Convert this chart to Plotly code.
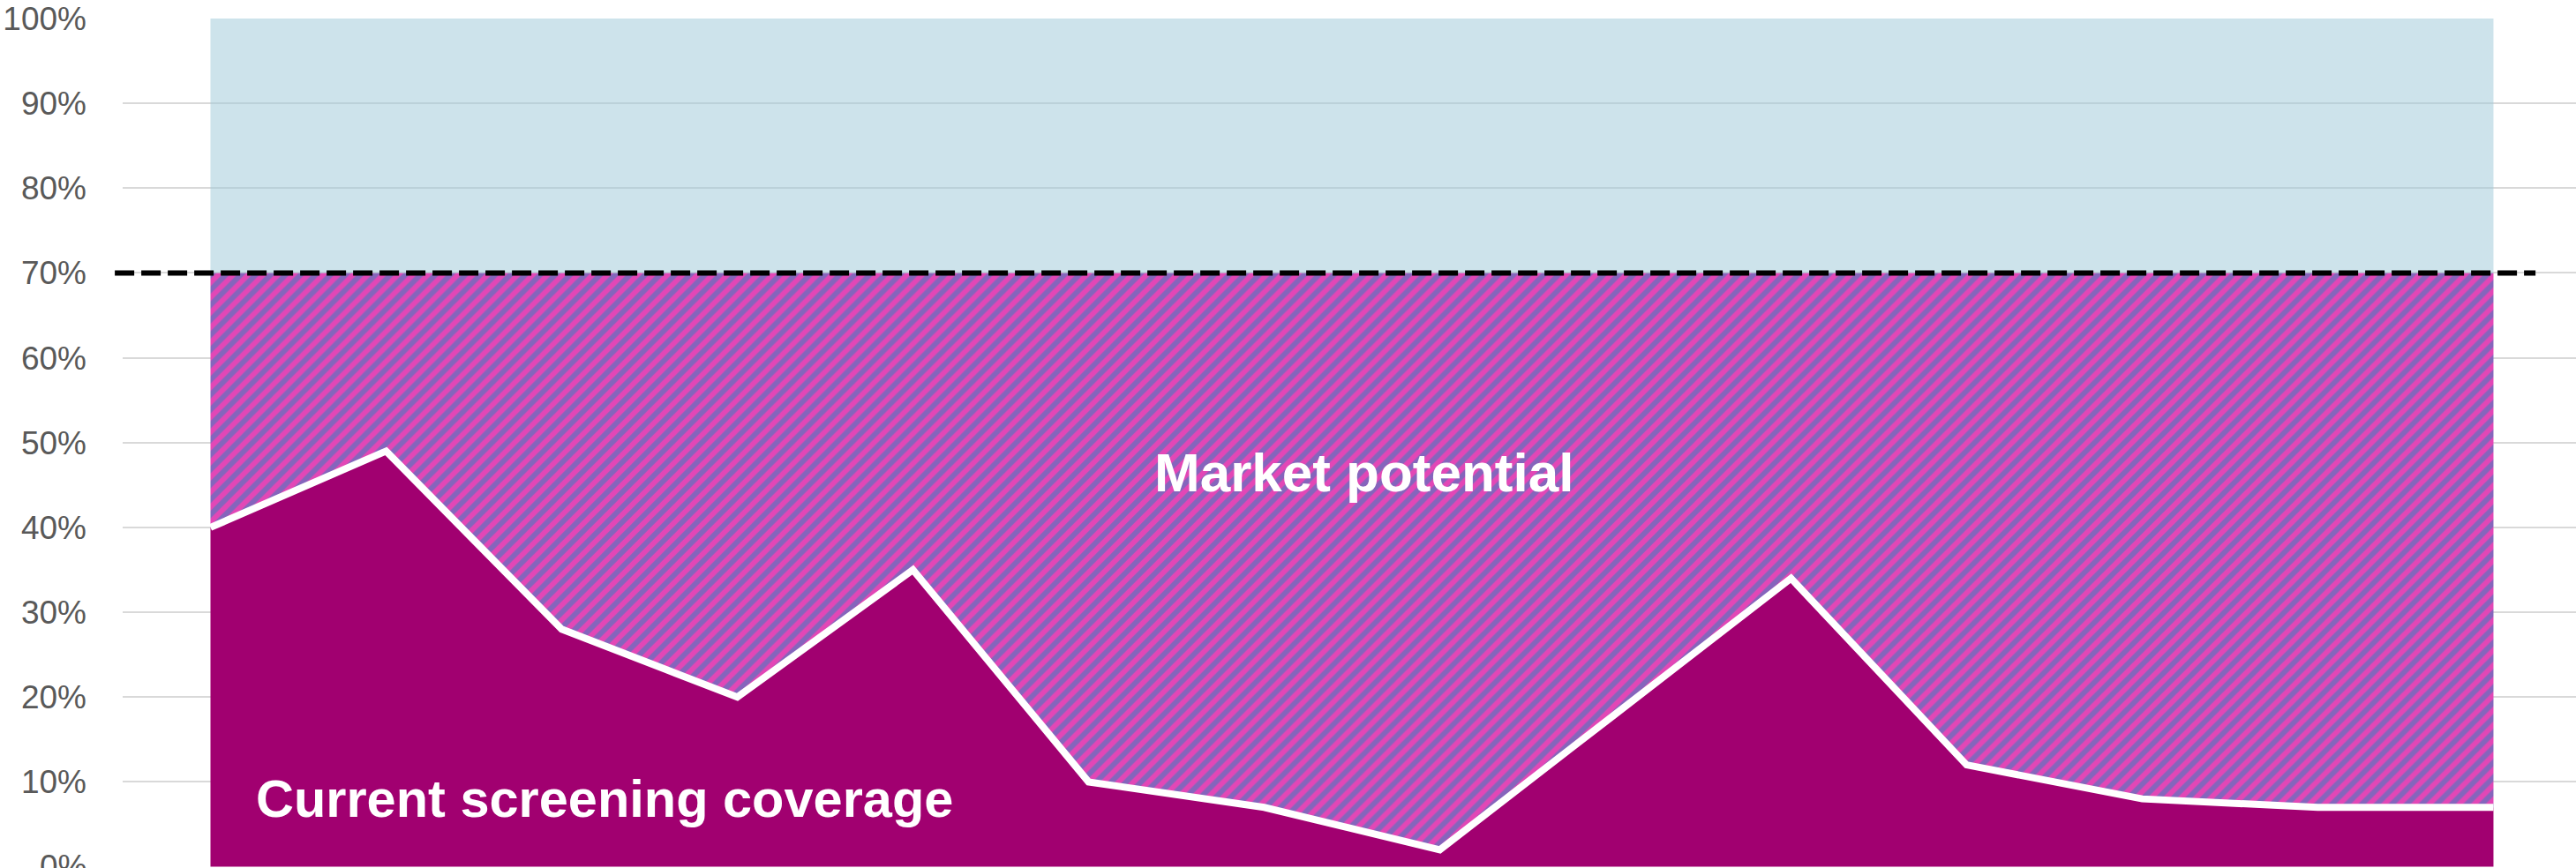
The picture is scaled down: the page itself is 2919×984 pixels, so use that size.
import plotly.graph_objects as go

# ---- data ----
categories = list(range(14))
coverage = [0.40, 0.49, 0.28, 0.20, 0.35, 0.10, 0.07, 0.02, 0.18, 0.34, 0.12, 0.08, 0.07, 0.07]
target = 0.70
full = 1.00
y_ticks = [0.0, 0.1, 0.2, 0.3, 0.4, 0.5, 0.6, 0.7, 0.8, 0.9, 1.0]
y_tick_labels = ["0%", "10%", "20%", "30%", "40%", "50%", "60%", "70%", "80%", "90%", "100%"]
label_current = "Current screening coverage"
label_market = "Market potential"

PURPLE = "#A10070"
PINK = "#E247B6"
BLUE = "#2784C2"
LIGHTBLUE = "rgba(160,202,216,0.52)"
FONT = "Liberation Sans, Arial, sans-serif"

fig = go.Figure()

# current coverage (solid purple)
fig.add_trace(go.Scatter(
    x=categories, y=coverage, mode="lines", fill="tozeroy",
    fillcolor=PURPLE, line=dict(color="rgba(0,0,0,0)", width=0),
    hoverinfo="skip", showlegend=False))

# market potential up to target (hatched)
fig.add_trace(go.Scatter(
    x=categories, y=[target] * len(categories), mode="lines", fill="tonexty",
    fillcolor=PINK,
    fillpattern=dict(shape="/", fgcolor=BLUE, bgcolor=PINK, size=12, solidity=0.5),
    line=dict(color="rgba(0,0,0,0)", width=0),
    hoverinfo="skip", showlegend=False))

# remainder to 100% (light blue)
fig.add_trace(go.Scatter(
    x=categories, y=[full] * len(categories), mode="lines", fill="tonexty",
    fillcolor=LIGHTBLUE, line=dict(color="rgba(0,0,0,0)", width=0),
    hoverinfo="skip", showlegend=False))

# white border on coverage
fig.add_trace(go.Scatter(
    x=categories, y=coverage, mode="lines",
    line=dict(color="white", width=8),
    hoverinfo="skip", showlegend=False))

# target dashed line
fig.add_shape(type="line", xref="paper", yref="y",
              x0=-0.0032, x1=0.9835, y0=target, y1=target,
              line=dict(color="black", width=6, dash="22px,8px"), layer="above")

fig.add_annotation(x=6.57, y=0.465, xref="x", yref="y", text="<b>%s</b>" % label_market,
                   showarrow=False, font=dict(family=FONT, size=62, color="white"),
                   xanchor="center", yanchor="middle")
fig.add_annotation(x=0.25, y=0.08, xref="x", yref="y", text="<b>%s</b>" % label_current,
                   showarrow=False, font=dict(family=FONT, size=59.5, color="white"),
                   xanchor="left", yanchor="middle")

# bottom tick label (sits on the lower edge, partly cut off)
fig.add_annotation(x=-0.0144, y=y_ticks[0], xref="paper", yref="y", text=y_tick_labels[0],
                   showarrow=False, font=dict(family=FONT, size=37, color="#595959"),
                   xanchor="right", yanchor="middle", borderpad=0)

fig.update_layout(
    width=2919, height=984,
    margin=dict(l=139, r=0, t=21, b=0),
    paper_bgcolor="white", plot_bgcolor="white",
    xaxis=dict(range=[-0.5, 13.47], showgrid=False, zeroline=False, showticklabels=False,
               showline=False, ticks=""),
    yaxis=dict(range=[-0.0015, 1], tickvals=y_ticks[1:], ticktext=y_tick_labels[1:],
               showgrid=True, gridcolor="#D9D9D9", gridwidth=2, zeroline=False,
               showline=False, ticks="", ticklabelstandoff=40,
               tickfont=dict(family=FONT, size=37, color="#595959")),
    hovermode=False,
)

fig.write_html("out.html")
